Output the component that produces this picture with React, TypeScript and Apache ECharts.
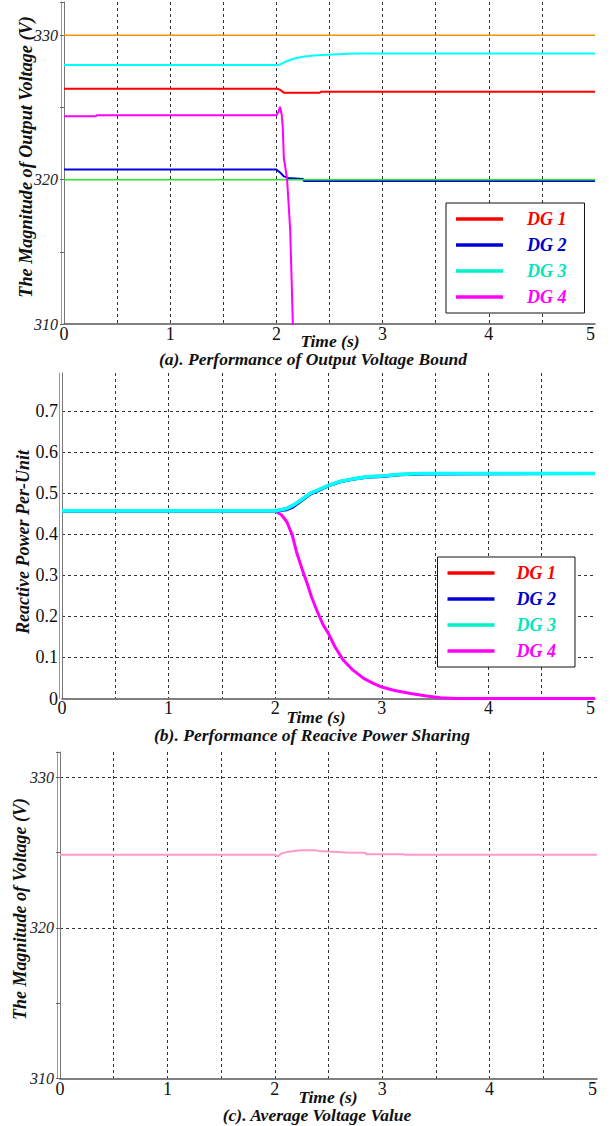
import React, { useEffect, useRef } from "react";
import * as echarts from "echarts";

// ---------- data ----------
const seriesNames = ["DG 1", "DG 2", "DG 3", "DG 4"];
const xTickLabels = ["0", "1", "2", "3", "4", "5"];

// (a) output voltage (V)
const boundT = [0, 5];
const upperBoundV = [330, 330];
const lowerBoundV = [320, 320];

const voltDg1T = [0, 2.01, 2.04, 2.07, 2.41, 2.42, 5];
const voltDg1V = [326.3, 326.3, 326.2, 326.03, 326.03, 326.1, 326.1];

const voltDg2T = [0, 2.0, 2.04, 2.07, 2.11, 2.25, 2.26, 5];
const voltDg2V = [320.7, 320.7, 320.46, 320.23, 320.12, 320.05, 319.9, 319.9];

const voltDg3T = [0, 2.02, 2.04, 2.08, 2.16, 2.25, 2.35, 2.48, 2.67, 2.75, 5];
const voltDg3V = [327.95, 327.95, 328.0, 328.15, 328.38, 328.52, 328.61, 328.66, 328.73, 328.75, 328.75];

const voltDg4T = [0, 0.3, 0.31, 2.0, 2.02, 2.034, 2.05, 2.06, 2.07, 2.1, 2.13, 2.155, 2.2];
const voltDg4V = [324.4, 324.4, 324.46, 324.46, 324.7, 325.05, 324.5, 323.6, 321.5, 320.1, 316.5, 310, 300];

// (b) reactive power (p.u.)
const qT = [0, 2.0, 2.11, 2.17, 2.25, 2.33, 2.41, 2.5, 2.61, 2.73, 2.86, 3.0, 3.17, 3.39, 5];
const qDg1V = [0.457, 0.457, 0.463, 0.471, 0.485, 0.5, 0.509, 0.519, 0.529, 0.535, 0.54, 0.542, 0.546, 0.548, 0.548];
const qDg2V = [0.457, 0.457, 0.46, 0.467, 0.482, 0.498, 0.507, 0.518, 0.528, 0.534, 0.539, 0.541, 0.545, 0.547, 0.548];
const qDg3V = [0.457, 0.457, 0.463, 0.471, 0.485, 0.5, 0.509, 0.519, 0.529, 0.535, 0.54, 0.542, 0.546, 0.548, 0.548];

const qDg4T = [0, 2.0, 2.06, 2.11, 2.16, 2.2, 2.25, 2.3, 2.34, 2.39, 2.45, 2.5, 2.56, 2.64, 2.73, 2.83, 2.92, 3.0, 3.11, 3.27, 3.42, 3.55, 3.7, 5];
const qDg4V = [0.457, 0.457, 0.447, 0.43, 0.398, 0.357, 0.317, 0.28, 0.248, 0.215, 0.179, 0.158, 0.126, 0.093, 0.069, 0.049, 0.037, 0.028, 0.02, 0.012, 0.006, 0.002, 0, 0];

// (c) average voltage (V)
const avgT = [0, 2.0, 2.03, 2.06, 2.11, 2.18, 2.24, 2.38, 2.4, 2.5, 2.66, 2.84, 2.85, 3.2, 3.21, 5];
const avgV = [324.86, 324.86, 324.75, 324.95, 325.04, 325.12, 325.17, 325.17, 325.12, 325.08, 325.02, 325.0, 324.9, 324.9, 324.86, 324.86];

// ---------- styling ----------
const FONT = "Liberation Serif, serif";
const C_RED = "#ff0000";
const C_BLUE = "#0000dd";
const C_CYAN = "#00ffff";
const C_TURQ = "#00f2c8";
const C_MAG = "#ff00ff";
const C_ORANGE = "#f39200";
const C_GREEN = "#22ee22";
const C_PINK = "#ff99cc";

const zip = (ts: number[], vs: number[]) => ts.map((t, i) => [t, vs[i]]);

const xAxisFor = (gridIndex: number, margin: number) => ({
  gridIndex,
  type: "value",
  min: 0,
  max: 5,
  interval: 0.5,
  axisLine: { show: true, onZero: false, lineStyle: { color: "#555", width: 1.5 } },
  axisTick: { show: false },
  axisLabel: {
    margin,
    fontSize: 18,
    fontFamily: FONT,
    color: "#111",
    alignMaxLabel: "right",
    formatter: (v: number) => (Number.isInteger(v) ? xTickLabels[v] : ""),
  },
  splitLine: {
    show: true,
    showMinLine: false,
    showMaxLine: false,
    lineStyle: { color: "#333", type: [3, 3], width: 1 },
  },
});

const outerLine = (gridIndex: number) => ({
  gridIndex,
  type: "value",
  min: 0,
  max: 1,
  position: "left",
  offset: 3,
  axisLine: { show: true, onZero: false, lineStyle: { color: "#999", width: 1 } },
  axisTick: { show: false },
  axisLabel: { show: false },
  splitLine: { show: false },
});

const lineSeries = (name: string, data: number[][], color: string, width: number, gi: number, z = 2) => ({
  name,
  type: "line",
  data,
  xAxisIndex: gi,
  yAxisIndex: gi,
  symbol: "none",
  showSymbol: false,
  color,
  lineStyle: { color, width },
  itemStyle: { color },
  z,
});

const titleText = (text: string, x: number, y: number, rotate = false, size = 18) => ({
  type: "text",
  x,
  y,
  rotation: rotate ? Math.PI / 2 : 0,
  style: {
    text,
    fontFamily: FONT,
    fontSize: size,
    fontWeight: "bold",
    fontStyle: "italic",
    fill: "#111",
    align: "center",
    verticalAlign: "middle",
  },
});

const legendFor = (left: number, top: number, textPad: number, rightPad: number) => ({
  orient: "vertical",
  left,
  top,
  icon: "rect",
  itemWidth: 47,
  itemHeight: 3.5,
  itemGap: 6,
  padding: [6, rightPad, 6, 10],
  borderColor: "#111",
  borderWidth: 1,
  backgroundColor: "#fff",
  selectedMode: false,
  textStyle: {
    fontFamily: FONT,
    fontSize: 18,
    fontWeight: "bold",
    fontStyle: "italic",
    lineHeight: 20,
    padding: [0, 0, 0, textPad],
  },
  data: [
    { name: seriesNames[0], itemStyle: { color: C_RED }, textStyle: { color: "#ff0000" } },
    { name: seriesNames[1], itemStyle: { color: C_BLUE }, textStyle: { color: "#0000cc" } },
    { name: seriesNames[2], itemStyle: { color: C_TURQ }, textStyle: { color: "#00e8bc" } },
    { name: seriesNames[3], itemStyle: { color: C_MAG }, textStyle: { color: "#ff00ff" } },
  ],
});

const voltAxis = (gridIndex: number, max: number, grid: boolean) => ({
  gridIndex,
  type: "value",
  min: 310,
  max,
  interval: 10,
  axisLine: { show: true, onZero: false, lineStyle: { color: "#777", width: 1 } },
  axisTick: { show: true, length: 4, lineStyle: { color: "#666" } },
  minorTick: { show: true, splitNumber: 2, length: 4, lineStyle: { color: "#666" } },
  axisLabel: {
    margin: 6,
    fontSize: 16,
    fontStyle: "italic",
    fontFamily: FONT,
    color: "#222",
    formatter: (v: number) => (v % 10 === 0 ? String(v) : ""),
  },
  splitLine: {
    show: grid,
    showMinLine: false,
    showMaxLine: false,
    lineStyle: { color: "#333", type: [3, 3], width: 1 },
  },
});

export default function App() {
  const ref = useRef<HTMLDivElement>(null);

  useEffect(() => {
    document.body.style.margin = "0";
    if (!ref.current) return;
    const chart = echarts.init(ref.current, null, { renderer: "svg" });

    const option: any = {
      animation: false,
      backgroundColor: "#fff",
      grid: [
        { left: 64, right: 16, top: 2, bottom: 802 },
        { left: 62, right: 16, top: 373, bottom: 427.5 },
        { left: 60, right: 14, top: 752, bottom: 47.5 },
      ],
      xAxis: [xAxisFor(0, 1), xAxisFor(1, 0), xAxisFor(2, 1)],
      yAxis: [
        voltAxis(0, 332.31, false),
        {
          gridIndex: 1,
          type: "value",
          min: 0,
          max: 0.793,
          interval: 0.1,
          axisLine: { show: true, onZero: false, lineStyle: { color: "#777", width: 1 } },
          axisTick: { show: false },
          axisLabel: {
            margin: 4,
            fontSize: 18,
            fontFamily: FONT,
            color: "#111",
            formatter: (v: number) => {
              const k = Math.round(v * 10);
              if (Math.abs(v * 10 - k) > 1e-6) return "";
              return k === 0 ? "0" : (k / 10).toFixed(1);
            },
          },
          splitLine: {
            show: true,
            showMinLine: false,
            showMaxLine: false,
            lineStyle: { color: "#333", type: [3, 3], width: 1 },
          },
        },
        voltAxis(2, 331.69, true),
        outerLine(0),
        outerLine(1),
        outerLine(2),
      ],
      legend: [legendFor(446, 203, 19, 18), legendFor(437.5, 557, 17, 19)],
      series: [
        // (a)
        lineSeries("Upper bound", zip(boundT, upperBoundV), C_ORANGE, 1.5, 0, 1),
        lineSeries(seriesNames[0], zip(voltDg1T, voltDg1V), C_RED, 2, 0),
        lineSeries(seriesNames[1], zip(voltDg2T, voltDg2V), C_BLUE, 2, 0),
        lineSeries("Lower bound", zip(boundT, lowerBoundV), C_GREEN, 1.5, 0, 3),
        lineSeries(seriesNames[2], zip(voltDg3T, voltDg3V), C_CYAN, 2, 0),
        lineSeries(seriesNames[3], zip(voltDg4T, voltDg4V), C_MAG, 2, 0, 4),
        // (b)
        lineSeries(seriesNames[3], zip(qDg4T, qDg4V), C_MAG, 3, 1, 2),
        lineSeries(seriesNames[0], zip(qT, qDg1V), C_RED, 3, 1, 3),
        lineSeries(seriesNames[1], zip(qT, qDg2V), C_BLUE, 3, 1, 4),
        lineSeries(seriesNames[2], zip(qT, qDg3V), C_CYAN, 3.6, 1, 5),
        // (c)
        lineSeries("Average voltage", zip(avgT, avgV), C_PINK, 2, 2),
      ],
      graphic: [
        titleText("Time (s)", 330, 341, false, 17.5),
        titleText("(a). Performance of Output Voltage Bound", 313, 359, false, 17.5),
        titleText("The Magnitude of Output Voltage (V)", 26, 157, true, 18.2),
        titleText("Time (s)", 316, 716.5, false, 17.5),
        titleText("(b). Performance of Reacive Power Sharing", 312, 734.5, false, 17.5),
        titleText("Reactive Power Per-Unit", 23, 542, true, 18),
        titleText("Time (s)", 328, 1097, false, 17.5),
        titleText("(c). Average Voltage Value", 317, 1115, false, 17.5),
        titleText("The Magnitude of Voltage (V)", 20, 909, true, 18),
      ],
    };

    chart.setOption(option);
    return () => chart.dispose();
  }, []);

  return <div ref={ref} style={{ width: 611, height: 1126 }} />;
}
